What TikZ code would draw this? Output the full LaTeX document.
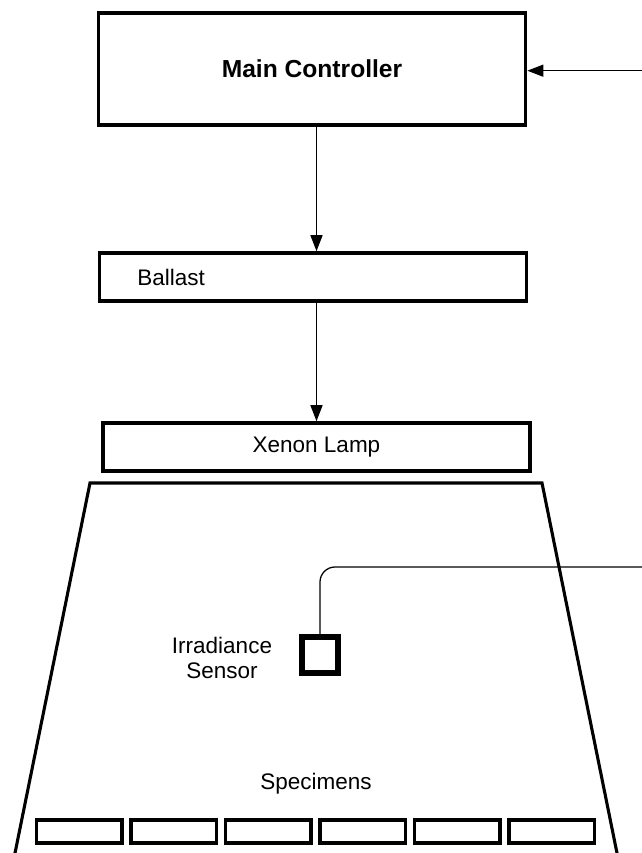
\documentclass[tikz,border=0pt]{standalone}
\usepackage{fontspec}
\setmainfont{Liberation Sans}
\usetikzlibrary{arrows.meta, positioning, calc}

\begin{document}
\begin{tikzpicture}[%
  x=0.025cm, y=-0.025cm,
  every node/.style={align=center, font=\fontsize{16}{17.7}\selectfont},
  block/.style={draw, line width=2.5pt, minimum width=10.675cm, minimum height=1.2cm, inner sep=0pt},
  specbox/.style={draw, line width=2.5pt, minimum width=2.14cm, minimum height=0.575cm, inner sep=0pt},
  sensorbox/.style={draw, line width=4pt, minimum size=0.9cm, inner sep=0pt},
  arr/.style={-{Triangle[length=4mm, width=3mm]}, line width=0.9pt},
  wire/.style={line width=0.9pt, rounded corners=0.375cm},
  chamber/.style={line width=2.2pt}
]
\useasboundingbox (0,0) rectangle (642,853);

% 1. Main Controller
\node[block, minimum height=2.79cm, font=\fontsize{17.5}{20}\selectfont\bfseries] (main) at (312,69) {Main Controller};

% 2. Ballast
\node[block, text width=8.775cm, inner xsep=0.95cm, align=left] (ballast) at (313,277) {Ballast};

% 3. Xenon Lamp
\node[block] (xenon) at (316.5,447) {Xenon Lamp};
\draw[arr] (main.south -| xenon) -- (ballast.north -| xenon);
\draw[arr] (ballast.south -| xenon) -- (xenon.north);

% 4. Test chamber
\draw[chamber] (13.6,860) -- (90,483) -- (542,483) -- (618.4,860);

% 5. Irradiance sensor and feedback
\node[sensorbox] (sensor) at (320,655) {};
\node (sensorlabel) at (222,658) {Irradiance\\Sensor};
\coordinate (fbout) at (645,567);
\coordinate (fbin) at (645,70.7);
\draw[wire] (sensor.north) |- (fbout);
\draw[arr] (fbin) -- (fbin -| main.east);

% 6. Specimens
\node (speclabel) at (316,784) {Specimens};
\foreach \i in {0,...,5}
  \node[specbox] (spec\i) at (79.25+94.5*\i, 831.5) {};

\end{tikzpicture}
\end{document}
